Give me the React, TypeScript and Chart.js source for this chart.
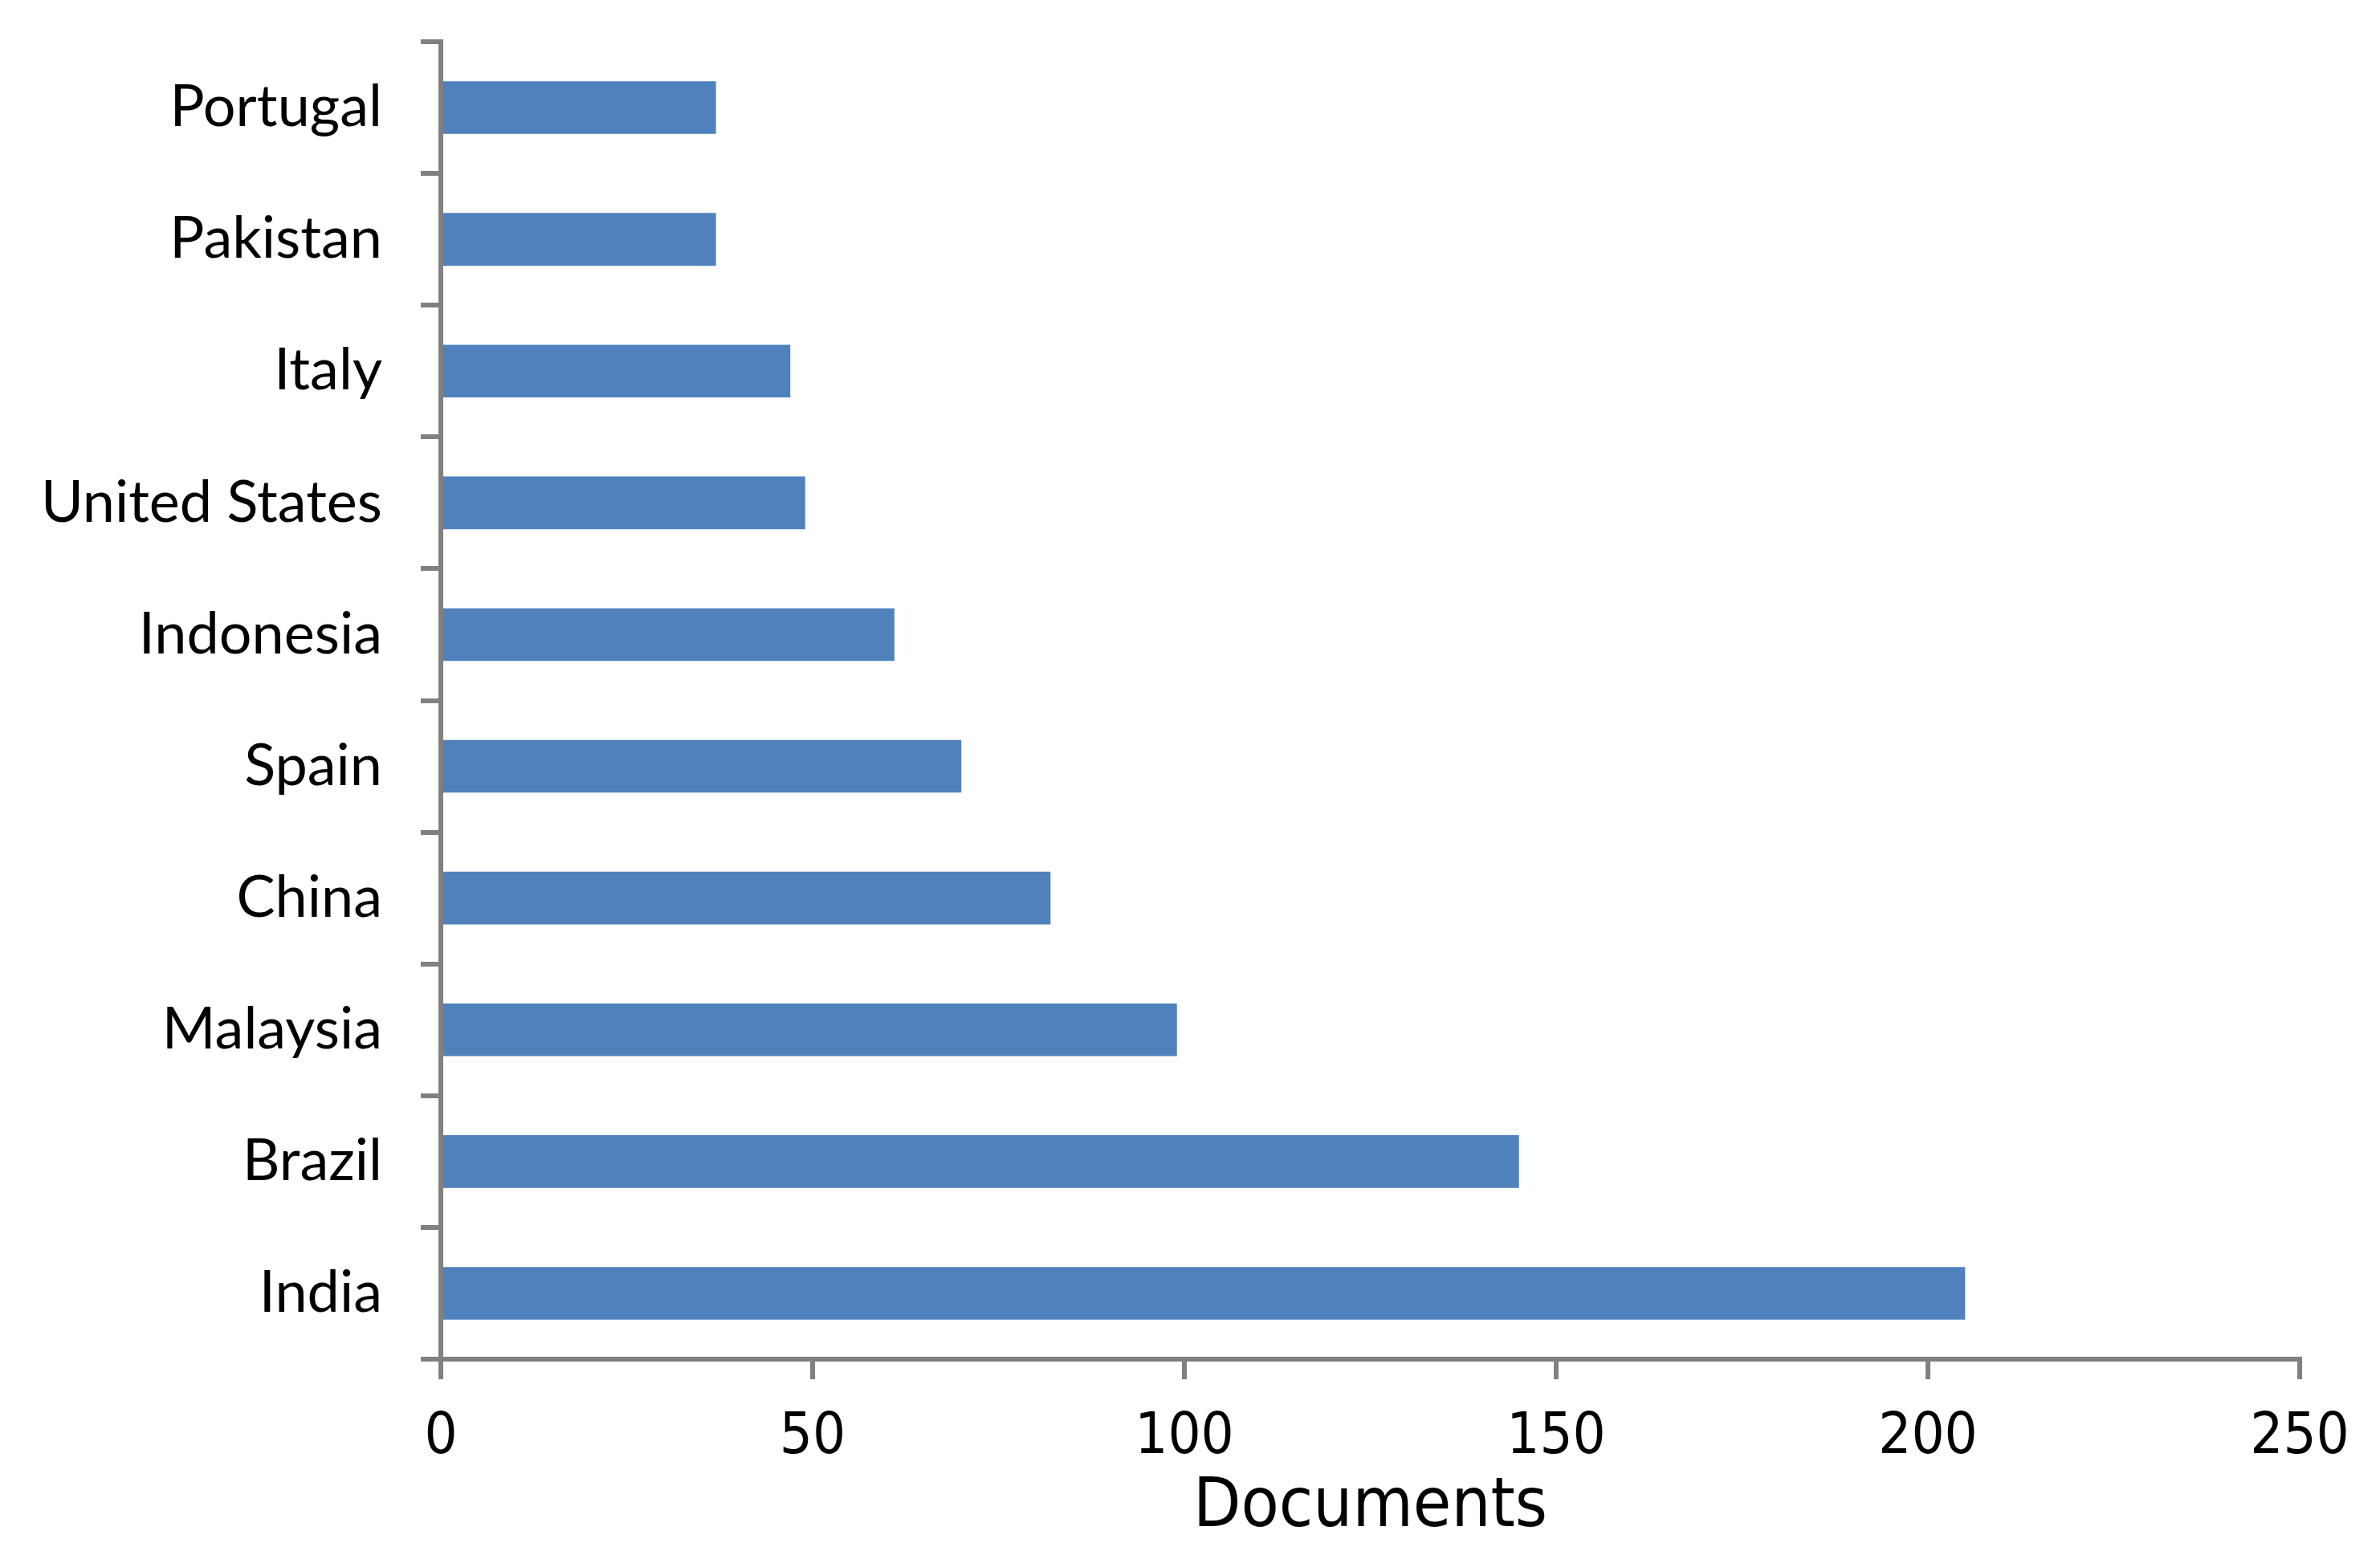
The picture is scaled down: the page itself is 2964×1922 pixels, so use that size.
import React, { useEffect, useRef } from "react";
import { Chart, registerables } from "chart.js";

Chart.register(...registerables);

const countries = ["Portugal", "Pakistan", "Italy", "United States", "Indonesia", "Spain", "China", "Malaysia", "Brazil", "India"];
const documents = [37, 37, 47, 49, 61, 70, 82, 99, 145, 205];
const xTitle = "Documents";
const xMin = 0;
const xMax = 250;
const xStep = 50;

const W = 2964;
const H = 1922;

const whiteBg = {
  id: "whiteBg",
  beforeDraw(chart: any) {
    const ctx = chart.ctx;
    ctx.save();
    ctx.fillStyle = "#ffffff";
    ctx.fillRect(0, 0, chart.width, chart.height);
    ctx.restore();
  },
};

export default function App() {
  const ref = useRef<HTMLCanvasElement | null>(null);
  useEffect(() => {
    if (!ref.current) return;
    const axisColor = "#808080";
    const narrow = "'Liberation Sans Narrow', 'DejaVu Sans Condensed', 'Liberation Sans', sans-serif";
    const chart = new Chart(ref.current, {
      type: "bar",
      data: {
        labels: countries,
        datasets: [
          {
            label: xTitle,
            data: documents,
            backgroundColor: "#4F81BD",
            borderWidth: 0,
            barPercentage: 0.4,
            categoryPercentage: 1,
          },
        ],
      },
      plugins: [whiteBg],
      options: {
        indexAxis: "y",
        responsive: false,
        animation: false,
        devicePixelRatio: 1,
        layout: { padding: { left: 0, top: 52, right: 100, bottom: 0 } },
        plugins: { legend: { display: false }, tooltip: { enabled: false } },
        scales: {
          x: {
            type: "linear",
            min: xMin,
            max: xMax,
            ticks: {
              stepSize: xStep,
              color: "#000",
              padding: 30,
              font: { family: narrow, size: 72 },
            },
            grid: {
              drawOnChartArea: false,
              drawTicks: true,
              tickLength: 25,
              color: axisColor,
              lineWidth: 6,
            },
            border: { display: true, color: axisColor, width: 6 },
            title: {
              display: true,
              text: xTitle,
              color: "#000",
              padding: { top: 0, bottom: 0 },
              font: { family: narrow, size: 86, lineHeight: 1 },
            },
            afterFit: (s: any) => {
              s.height = 229;
            },
          },
          y: {
            type: "category",
            offset: true,
            ticks: {
              color: "#000",
              padding: 48,
              font: { family: "Lato, 'Open Sans', sans-serif", size: 72, lineHeight: 0.1 },
            },
            grid: {
              offset: true,
              drawOnChartArea: false,
              drawTicks: true,
              tickLength: 25,
              color: axisColor,
              lineWidth: 6,
            },
            border: { display: true, color: axisColor, width: 6 },
            afterFit: (s: any) => {
              s.width = 549;
            },
          },
        },
      },
    });
    return () => chart.destroy();
  }, []);
  return (
    <div style={{ position: "fixed", left: 0, top: 0, width: W, height: H, background: "#fff" }}>
      <canvas ref={ref} width={W} height={H} style={{ width: W, height: H, display: "block" }} />
    </div>
  );
}
